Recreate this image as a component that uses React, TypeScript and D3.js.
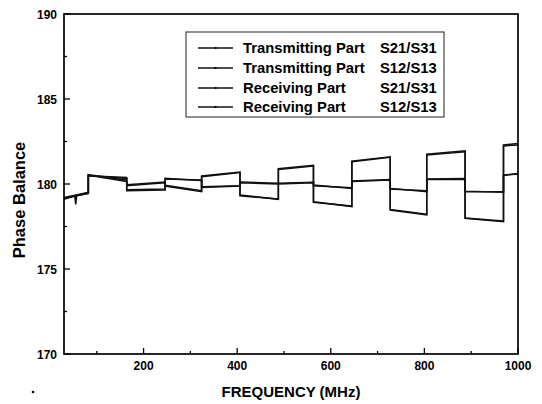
import React from 'react';
import * as d3 from 'd3';

// switching frequencies (MHz): each curve is a step between these edges
const edges = [30, 82, 164, 246, 324, 406, 488, 563, 645, 727, 805, 887, 969, 1000];

// [value at segment start, value at segment end] for every step
const txS21 = [
  [179.1, 179.45], [180.52, 180.15], [179.9, 180.08], [179.88, 179.55],
  [180.43, 180.67], [179.35, 179.1], [180.86, 181.06], [178.96, 178.67],
  [181.31, 181.57], [178.47, 178.18], [181.7, 181.9], [177.98, 177.78],
  [182.24, 182.3],
];
const txS12 = [
  [179.15, 179.5], [180.55, 180.22], [179.95, 180.12], [179.92, 179.6],
  [180.47, 180.7], [179.3, 179.12], [180.9, 181.1], [178.92, 178.7],
  [181.35, 181.6], [178.5, 178.22], [181.75, 181.95], [178.0, 177.82],
  [182.3, 182.38],
];
const rxS21 = [
  [179.15, 179.45], [180.5, 180.33], [179.61, 179.65], [180.33, 180.2],
  [179.8, 179.88], [180.08, 180.0], [180.0, 180.08], [179.94, 179.74],
  [180.14, 180.24], [179.74, 179.55], [180.27, 180.27], [179.55, 179.55],
  [180.53, 180.59],
];
const rxS12 = [
  [179.2, 179.5], [180.48, 180.38], [179.66, 179.7], [180.3, 180.24],
  [179.84, 179.9], [180.12, 180.04], [180.04, 180.1], [179.9, 179.78],
  [180.18, 180.26], [179.7, 179.6], [180.3, 180.32], [179.58, 179.52],
  [180.5, 180.62],
];
// narrow dip near 55 MHz
const dip = [[53, 179.3], [55, 178.8], [57, 179.32]];

const seriesNames = [
  ['Transmitting Part', 'S21/S31'],
  ['Transmitting Part', 'S12/S13'],
  ['Receiving Part', 'S21/S31'],
  ['Receiving Part', 'S12/S13'],
];

const xMajor = [200, 400, 600, 800, 1000];
const xMinor = [100, 300, 500, 700, 900];
const yMajor = [170, 175, 180, 185, 190];
const yMinor = [172.5, 177.5, 182.5, 187.5];

const font = '"Liberation Sans", Arial, sans-serif';

function toPoints(steps: number[][], extra: number[][] = []) {
  const pts: number[][] = [];
  steps.forEach((s, i) => {
    pts.push([edges[i], s[0]]);
    if (i === 0) extra.forEach((p) => pts.push(p));
    pts.push([edges[i + 1], s[1]]);
  });
  return pts;
}

export default function App() {
  const left = 64, right = 518, top = 14, bottom = 354;

  const x = d3.scaleLinear().domain([30, 1000]).range([left, right]);
  const y = d3.scaleLinear().domain([170, 190]).range([bottom, top]);

  const line = d3.line<number[]>()
    .x((d) => x(d[0]))
    .y((d) => y(d[1]));

  const all = [toPoints(txS21, dip), toPoints(txS12), toPoints(rxS21), toPoints(rxS12)];

  // legend box
  const lg = { x: 186, y: 32, w: 258, h: 85 };
  const rowY = [48, 68, 88, 107];

  return (
    <svg width={542} height={404} style={{ position: 'absolute', left: 0, top: 0, background: '#fff' }}>
      <rect x={0} y={0} width={542} height={404} fill="#fff" />

      {all.map((pts, i) => (
        <path key={i} d={line(pts) || ''} fill="none" stroke="#111" strokeWidth={1.5} />
      ))}

      {/* frame */}
      <rect x={left} y={top} width={right - left} height={bottom - top} fill="none" stroke="#000" strokeWidth={1.7} />

      {/* x ticks */}
      {xMajor.map((t) => (
        <g key={'xm' + t}>
          <line x1={x(t)} x2={x(t)} y1={bottom} y2={bottom - 6} stroke="#000" strokeWidth={1.3} />
          <text x={x(t)} y={370} textAnchor="middle" fontFamily={font} fontWeight="bold" fontSize={12}>{t}</text>
        </g>
      ))}
      {xMinor.map((t) => (
        <line key={'xn' + t} x1={x(t)} x2={x(t)} y1={bottom} y2={bottom - 3} stroke="#000" strokeWidth={1.3} />
      ))}

      {/* y ticks */}
      {yMajor.map((t) => (
        <g key={'ym' + t}>
          <line x1={left} x2={left + 6} y1={y(t)} y2={y(t)} stroke="#000" strokeWidth={1.3} />
          <text x={57} y={y(t) + 4.5} textAnchor="end" fontFamily={font} fontWeight="bold" fontSize={12}>{t}</text>
        </g>
      ))}
      {yMinor.map((t) => (
        <line key={'yn' + t} x1={left} x2={left + 3} y1={y(t)} y2={y(t)} stroke="#000" strokeWidth={1.3} />
      ))}

      {/* axis titles */}
      <text transform={`translate(25,${(top + bottom) / 2 + 16}) rotate(-90)`} textAnchor="middle"
        fontFamily={font} fontWeight="bold" fontSize={16.5}>Phase Balance</text>
      <text x={(left + right) / 2} y={397} textAnchor="middle" fontFamily={font} fontWeight="bold" fontSize={15}>
        FREQUENCY (MHz)
      </text>
      <circle cx={33} cy={392} r={1.3} fill="#000" />

      {/* legend */}
      <rect x={lg.x} y={lg.y} width={lg.w} height={lg.h} fill="#fff" stroke="#222" strokeWidth={1} />
      {seriesNames.map((n, i) => (
        <g key={'lg' + i}>
          <line x1={198} x2={233} y1={rowY[i]} y2={rowY[i]} stroke="#111" strokeWidth={1.3} />
          <rect x={214.5} y={rowY[i] - 1} width={2} height={2} fill="#000" />
          <text x={243} y={rowY[i] + 5} fontFamily={font} fontWeight="bold" fontSize={14.8}>{n[0]}</text>
          <text x={380} y={rowY[i] + 5} fontFamily={font} fontWeight="bold" fontSize={14.8}>{n[1]}</text>
        </g>
      ))}
    </svg>
  );
}
